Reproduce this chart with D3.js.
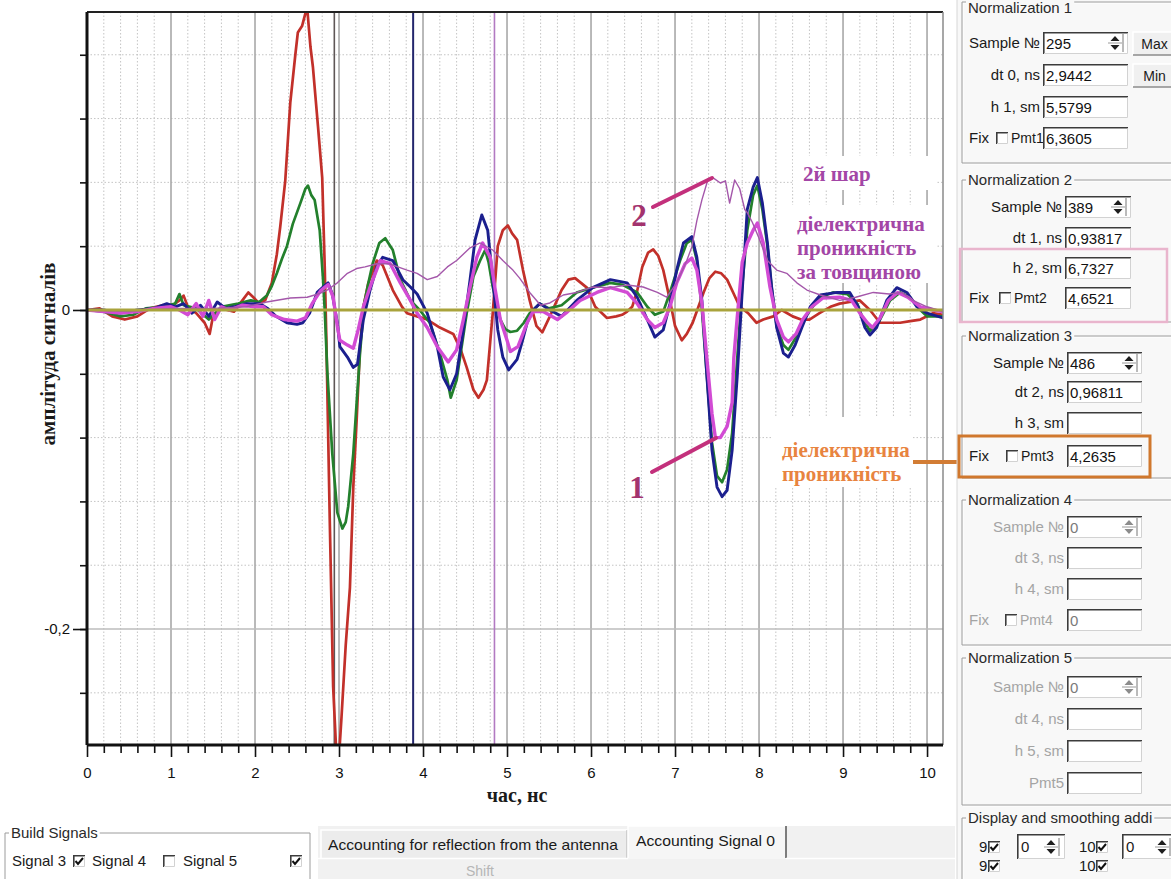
<!DOCTYPE html>
<html><head><meta charset="utf-8">
<script src="https://cdn.jsdelivr.net/npm/d3@7/dist/d3.min.js"></script>
<style>
html,body{margin:0;padding:0;background:#fff;}
svg{display:block;}
</style></head>
<body>
<svg id="chart" width="1171" height="879"></svg>
<script>
// ---------------- data ----------------
const timeMajorTicks = [0, 1, 2, 3, 4, 5, 6, 7, 8, 9, 10];
const timeMinorTicks = d3.range(0, 51).map(i => i / 5);
const ampLabelTicks = [0, -0.2];
const ampMinorTicks = d3.range(-6, 5).map(i => i * 0.04);
// cursor positions, ns: dt0, dt0+dt1, dt0+dt1+dt2
const cursorTimes = [2.9442, 3.8824, 4.8505];

// reflected signals: [time ns, amplitude]
const signalRed = [[0,0],[0.15,0.001],[0.3,-0.004],[0.45,-0.006],[0.6,-0.004],[0.75,0.001],[0.9,0.003],[1.0,0.002],[1.1,0.006],[1.15,0.009],[1.2,0.002],[1.3,-0.002],[1.4,-0.008],[1.46,-0.015],[1.5,-0.004],[1.6,0.001],[1.75,-0.001],[1.85,0.006],[1.92,0.011],[1.98,0.008],[2.05,0.004],[2.12,0.006],[2.2,0.017],[2.26,0.035],[2.3,0.052],[2.36,0.081],[2.42,0.13],[2.48,0.16],[2.51,0.174],[2.56,0.178],[2.62,0.19],[2.66,0.165],[2.69,0.152],[2.75,0.115],[2.8,0.083],[2.83,0.027],[2.85,-0.02],[2.89,-0.132],[2.93,-0.236],[2.97,-0.28],[3.0,-0.28],[3.03,-0.255],[3.08,-0.21],[3.13,-0.174],[3.17,-0.111],[3.21,-0.069],[3.25,-0.023],[3.29,0.002],[3.35,0.017],[3.45,0.031],[3.52,0.028],[3.64,0.0125],[3.75,0.002],[3.81,-0.002],[3.93,-0.004],[4.05,-0.006],[4.2,-0.011],[4.36,-0.015],[4.45,-0.025],[4.52,-0.036],[4.6,-0.05],[4.66,-0.055],[4.72,-0.05],[4.76,-0.044],[4.8,-0.02],[4.83,-0.002],[4.89,0.04],[4.95,0.05],[5.01,0.053],[5.06,0.048],[5.12,0.044],[5.19,0.025],[5.27,0.006],[5.35,-0.01],[5.42,-0.014],[5.51,-0.004],[5.65,0.0125],[5.73,0.019],[5.81,0.02],[5.95,0.014],[6.05,0.002],[6.19,-0.005],[6.3,-0.004],[6.37,-0.003],[6.43,-0.001],[6.49,0.002],[6.55,0.012],[6.61,0.027],[6.68,0.036],[6.74,0.038],[6.8,0.034],[6.86,0.025],[6.94,0.006],[7.0,-0.01],[7.08,-0.019],[7.14,-0.015],[7.21,-0.008],[7.34,0.011],[7.41,0.02],[7.48,0.024],[7.55,0.023],[7.62,0.019],[7.7,0.01],[7.77,0.002],[7.87,-0.002],[7.97,-0.008],[8.05,-0.006],[8.17,-0.004],[8.27,0],[8.4,-0.004],[8.5,-0.006],[8.6,-0.006],[8.72,-0.002],[8.85,0.002],[8.96,0.004],[9.08,0.005],[9.2,0.006],[9.32,0],[9.44,-0.008],[9.56,-0.008],[9.68,-0.008],[9.8,-0.007],[9.92,-0.006],[10.07,-0.002],[10.19,-0.003]];

const signalGreen = [[0,0],[0.2,-0.001],[0.4,-0.004],[0.55,-0.003],[0.7,0.001],[0.9,0.002],[1.05,0.004],[1.1,0.01],[1.15,0.003],[1.3,0.001],[1.45,-0.006],[1.6,0.002],[1.8,0.004],[1.95,0.006],[2.05,0.005],[2.14,0.009],[2.2,0.015],[2.26,0.023],[2.32,0.032],[2.38,0.04],[2.45,0.054],[2.54,0.067],[2.6,0.076],[2.63,0.078],[2.67,0.072],[2.71,0.069],[2.77,0.05],[2.81,0.019],[2.83,0],[2.86,-0.038],[2.92,-0.09],[2.98,-0.127],[3.04,-0.137],[3.08,-0.133],[3.11,-0.123],[3.17,-0.09],[3.21,-0.058],[3.25,-0.027],[3.3,0.004],[3.35,0.017],[3.4,0.029],[3.48,0.042],[3.55,0.045],[3.64,0.0376],[3.73,0.019],[3.85,0.006],[3.96,0],[4.08,-0.008],[4.2,-0.027],[4.29,-0.044],[4.33,-0.055],[4.4,-0.044],[4.52,-0.002],[4.6,0.021],[4.68,0.031],[4.74,0.0376],[4.78,0.03],[4.83,0.0144],[4.92,-0.006],[4.98,-0.012],[5.04,-0.0138],[5.12,-0.013],[5.2,-0.008],[5.27,-0.002],[5.39,0.004],[5.5,0.001],[5.65,0.003],[5.83,0.011],[6.02,0.014],[6.23,0.017],[6.38,0.0157],[6.55,0.011],[6.67,0.002],[6.76,-0.003],[6.86,-0.001],[6.94,0.011],[7.06,0.031],[7.14,0.042],[7.2,0.044],[7.26,0.031],[7.32,0],[7.38,-0.042],[7.44,-0.083],[7.5,-0.104],[7.56,-0.108],[7.62,-0.1],[7.68,-0.077],[7.74,-0.031],[7.8,0.015],[7.86,0.05],[7.93,0.072],[7.98,0.078],[8.04,0.063],[8.1,0.04],[8.15,0.014],[8.21,-0.01],[8.29,-0.022],[8.35,-0.025],[8.43,-0.018],[8.51,-0.008],[8.61,0],[8.73,0.008],[8.88,0.011],[9.05,0.01],[9.17,0.004],[9.24,-0.006],[9.32,-0.013],[9.42,-0.008],[9.56,0.006],[9.68,0.011],[9.8,0.008],[9.92,0],[10.0,-0.004],[10.19,-0.004]];

const signalBlue = [[0,0],[0.2,0],[0.4,-0.002],[0.6,0],[0.8,0.001],[0.95,0.004],[1.05,0.002],[1.15,0.004],[1.25,-0.002],[1.35,0.003],[1.45,-0.004],[1.55,0.005],[1.65,0.001],[1.75,0.002],[1.9,0.004],[2.06,0.004],[2.15,0.001],[2.25,-0.004],[2.38,-0.008],[2.5,-0.009],[2.57,-0.008],[2.65,-0.002],[2.74,0.011],[2.81,0.0144],[2.87,0.017],[2.92,0.01],[2.98,-0.008],[3.01,-0.023],[3.1,-0.0295],[3.17,-0.036],[3.22,-0.034],[3.29,-0.006],[3.37,0.0125],[3.45,0.027],[3.52,0.033],[3.64,0.031],[3.76,0.019],[3.85,0.0144],[3.93,0.01],[4.05,-0.002],[4.17,-0.023],[4.24,-0.042],[4.32,-0.05],[4.4,-0.04],[4.48,-0.0125],[4.56,0.019],[4.62,0.044],[4.7,0.0596],[4.77,0.05],[4.83,0.019],[4.89,-0.0125],[4.95,-0.0295],[5.02,-0.0376],[5.12,-0.031],[5.18,-0.02],[5.24,-0.008],[5.31,0],[5.39,0.004],[5.51,0],[5.65,-0.004],[5.83,0.006],[6.02,0.014],[6.23,0.019],[6.43,0.017],[6.55,0.008],[6.67,-0.006],[6.76,-0.017],[6.86,-0.0125],[6.94,0.004],[7.02,0.025],[7.1,0.042],[7.2,0.046],[7.26,0.033],[7.32,0.006],[7.38,-0.042],[7.44,-0.088],[7.5,-0.111],[7.56,-0.117],[7.62,-0.113],[7.68,-0.088],[7.74,-0.042],[7.8,0.012],[7.86,0.063],[7.93,0.077],[7.98,0.083],[8.04,0.067],[8.1,0.042],[8.15,0.0144],[8.21,-0.011],[8.29,-0.027],[8.35,-0.0295],[8.43,-0.022],[8.51,-0.011],[8.61,0.002],[8.73,0.0094],[8.93,0.011],[9.08,0.011],[9.18,0.002],[9.26,-0.011],[9.32,-0.0157],[9.4,-0.011],[9.52,0.006],[9.64,0.014],[9.76,0.011],[9.88,0.002],[10.0,-0.002],[10.19,-0.005]];

const signalMagenta = [[0,0],[0.2,-0.001],[0.4,-0.002],[0.6,-0.001],[0.8,0.001],[1.0,0.002],[1.1,0],[1.2,-0.003],[1.3,0.004],[1.38,-0.004],[1.45,0.006],[1.52,-0.006],[1.6,0.002],[1.7,0],[1.85,0.003],[2.0,0.002],[2.1,0.002],[2.2,-0.003],[2.35,-0.006],[2.5,-0.007],[2.6,-0.005],[2.68,0.004],[2.78,0.012],[2.87,0.016],[2.93,0.008],[2.98,-0.01],[3.01,-0.019],[3.1,-0.022],[3.17,-0.024],[3.23,-0.012],[3.29,0.002],[3.37,0.0144],[3.49,0.031],[3.61,0.029],[3.73,0.017],[3.85,0.006],[3.93,-0.002],[4.05,-0.011],[4.17,-0.023],[4.3,-0.0326],[4.4,-0.025],[4.48,-0.006],[4.56,0.0144],[4.64,0.033],[4.71,0.042],[4.8,0.033],[4.86,0.0125],[4.92,-0.006],[5.0,-0.019],[5.04,-0.026],[5.13,-0.023],[5.24,-0.008],[5.31,-0.001],[5.43,-0.001],[5.6,-0.006],[5.7,-0.002],[5.87,0.006],[6.07,0.011],[6.23,0.014],[6.43,0.011],[6.55,0.004],[6.67,-0.006],[6.76,-0.011],[6.86,-0.008],[6.94,0.002],[7.02,0.017],[7.12,0.029],[7.2,0.0326],[7.26,0.025],[7.32,0.004],[7.38,-0.031],[7.44,-0.065],[7.48,-0.08],[7.54,-0.08],[7.62,-0.073],[7.68,-0.058],[7.7,-0.03],[7.74,-0.005],[7.8,0.03],[7.86,0.042],[7.93,0.05],[7.98,0.0545],[8.05,0.042],[8.13,0.0144],[8.21,-0.006],[8.29,-0.017],[8.35,-0.02],[8.44,-0.015],[8.52,-0.006],[8.63,0.002],[8.76,0.0075],[8.96,0.008],[9.1,0.006],[9.2,-0.002],[9.29,-0.008],[9.35,-0.011],[9.44,-0.005],[9.54,0.006],[9.65,0.011],[9.77,0.008],[9.92,0.002],[10.07,0],[10.19,-0.001]];

// permittivity profile over thickness
const permittivityProfile = [[0,0],[0.5,-0.001],[1.0,0.001],[1.5,0.001],[1.9,0.002],[2.14,0.005],[2.42,0.0075],[2.62,0.008],[2.75,0.01],[2.86,0.0125],[2.98,0.017],[3.1,0.023],[3.21,0.026],[3.31,0.027],[3.45,0.029],[3.6,0.029],[3.7,0.027],[3.81,0.025],[3.93,0.023],[4.05,0.019],[4.17,0.021],[4.29,0.027],[4.4,0.031],[4.56,0.039],[4.68,0.042],[4.83,0.0376],[4.95,0.031],[5.07,0.025],[5.15,0.02],[5.27,0.011],[5.4,0.003],[5.51,0.0044],[5.67,0.0094],[5.83,0.011],[6.02,0.0144],[6.23,0.014],[6.43,0.0157],[6.62,0.0144],[6.79,0.011],[6.9,0.008],[7.02,0.017],[7.14,0.031],[7.2,0.0395],[7.26,0.056],[7.32,0.069],[7.39,0.0815],[7.45,0.083],[7.54,0.0796],[7.6,0.081],[7.65,0.067],[7.71,0.0815],[7.77,0.076],[7.83,0.063],[7.86,0.061],[7.92,0.055],[8.0,0.045],[8.1,0.031],[8.21,0.025],[8.33,0.023],[8.45,0.017],[8.57,0.0125],[8.73,0.0094],[8.96,0.006],[9.15,0.008],[9.36,0.011],[9.55,0.01],[9.7,0.011],[9.83,0.006],[10.0,0.002],[10.19,-0.001]];

// control panel contents
const norm1Rows = [["Sample №", "295"], ["dt 0, ns", "2,9442"], ["h 1, sm", "5,5799"], ["Pmt1", "6,3605"]];
const norm2Rows = [["Sample №", "389"], ["dt 1, ns", "0,93817"], ["h 2, sm", "6,7327"], ["Pmt2", "4,6521"]];
const norm3Rows = [["Sample №", "486"], ["dt 2, ns", "0,96811"], ["h 3, sm", ""], ["Pmt3", "4,2635"]];
const norm4Rows = [["Sample №", "0"], ["dt 3, ns", ""], ["h 4, sm", ""], ["Pmt4", "0"]];
const norm5Rows = [["Sample №", "0"], ["dt 4, ns", ""], ["h 5, sm", ""], ["Pmt5", ""]];
const buildSignals = [["Signal 3", true], ["Signal 4", false], ["Signal 5", true]];
const tabLabels = ["Accounting for reflection from the antenna", "Accounting Signal 0"];

// ---------------- chart ----------------
const svg = d3.select("#chart");
const P = {left: 87, right: 943, top: 12, bottom: 745};
const x = d3.scaleLinear().domain([0, 10.19]).range([P.left, P.right]);
const y = d3.scaleLinear().domain([-0.2727, 0.1868]).range([P.bottom, P.top]);
const serif = '"Liberation Serif", "Times New Roman", serif';
const sans = '"Liberation Sans", Arial, sans-serif';
const isMajorT = t => Math.abs(t - Math.round(t)) < 1e-6;

// grid
const grid = svg.append("g");
grid.selectAll("line.vmin").data(timeMinorTicks.filter(t => !isMajorT(t) && t < 10.19)).join("line")
  .attr("x1", d => x(d)).attr("x2", d => x(d)).attr("y1", P.top).attr("y2", P.bottom)
  .attr("stroke", "#c4c4c4").attr("stroke-width", 1).attr("stroke-dasharray", "1.5,2");
grid.selectAll("line.hmin").data(ampMinorTicks.filter(a => !ampLabelTicks.some(b => Math.abs(a - b) < 1e-9))).join("line")
  .attr("x1", P.left).attr("x2", P.right).attr("y1", d => y(d)).attr("y2", d => y(d))
  .attr("stroke", "#c4c4c4").attr("stroke-width", 1).attr("stroke-dasharray", "1.5,2");
grid.selectAll("line.vmaj").data(timeMajorTicks.filter(t => t > 0)).join("line")
  .attr("x1", d => x(d)).attr("x2", d => x(d)).attr("y1", P.top).attr("y2", P.bottom)
  .attr("stroke", "#a8a8a8").attr("stroke-width", 1.6);
grid.append("line").attr("x1", P.left).attr("x2", P.right).attr("y1", y(-0.2)).attr("y2", y(-0.2))
  .attr("stroke", "#bdbdbd").attr("stroke-width", 1.5);

// white label backgrounds inside the plot
const bgBoxes = [[793, 156, 937, 190], [790, 205, 937, 283], [773, 417, 913, 487]];
svg.append("g").selectAll("rect").data(bgBoxes).join("rect")
  .attr("x", d => d[0]).attr("y", d => d[1]).attr("width", d => d[2] - d[0]).attr("height", d => d[3] - d[1])
  .attr("fill", "#fff");

// cursor lines
const cursorColors = ["#5e5656", "#23266c", "#b27ac2"];
svg.append("g").selectAll("line").data(cursorTimes).join("line")
  .attr("x1", d => x(d)).attr("x2", d => x(d)).attr("y1", P.top).attr("y2", P.bottom)
  .attr("stroke", (d, i) => cursorColors[i]).attr("stroke-width", (d, i) => i === 1 ? 2 : 1.6);

// curves
svg.append("clipPath").attr("id", "plotClip").append("rect")
  .attr("x", P.left).attr("y", P.top).attr("width", P.right - P.left).attr("height", P.bottom - P.top);
const line = d3.line().x(d => x(d[0])).y(d => y(d[1]));
const series = [
  {data: signalRed, color: "#c2302a", w: 2.7},
  {data: signalGreen, color: "#23802c", w: 2.7},
  {data: signalBlue, color: "#1b1f8e", w: 2.9},
  {data: signalMagenta, color: "#d24bd4", w: 3.4},
  {data: permittivityProfile, color: "#a457aa", w: 1.4}
];
const curves = svg.append("g").attr("clip-path", "url(#plotClip)");
curves.selectAll("path").data(series).join("path")
  .attr("d", d => line(d.data)).attr("fill", "none")
  .attr("stroke", d => d.color).attr("stroke-width", d => d.w)
  .attr("stroke-linejoin", "round").attr("stroke-linecap", "round");

// zero baseline
svg.append("line").attr("x1", P.left).attr("x2", P.right).attr("y1", y(0)).attr("y2", y(0))
  .attr("stroke", "#a9a33c").attr("stroke-width", 3);

// frame
svg.append("line").attr("x1", P.left).attr("x2", P.right).attr("y1", P.top).attr("y2", P.top)
  .attr("stroke", "#222").attr("stroke-width", 2);
svg.append("line").attr("x1", P.right).attr("x2", P.right).attr("y1", P.top).attr("y2", P.bottom)
  .attr("stroke", "#8a8a8a").attr("stroke-width", 1.5);

// axes
const loc = d3.formatLocale({decimal: ",", thousands: " ", grouping: [3], currency: ["", ""], minus: "-"});
const fmtAmp = d => d === 0 ? "0" : loc.format(".1f")(d);
const xMinor = svg.append("g").attr("transform", `translate(0,${P.bottom})`)
  .call(d3.axisBottom(x).tickValues(timeMinorTicks.filter(t => !isMajorT(t) && t < 10.19)).tickSize(8).tickFormat(""));
const xMajor = svg.append("g").attr("transform", `translate(0,${P.bottom})`)
  .call(d3.axisBottom(x).tickValues(timeMajorTicks).tickSize(12).tickSizeOuter(0).tickPadding(10).tickFormat(d3.format("d")));
const yMinor = svg.append("g").attr("transform", `translate(${P.left},0)`)
  .call(d3.axisLeft(y).tickValues(ampMinorTicks).tickSize(7).tickFormat(""));
const yMajor = svg.append("g").attr("transform", `translate(${P.left},0)`)
  .call(d3.axisLeft(y).tickValues(ampLabelTicks).tickSize(14).tickSizeOuter(0).tickPadding(3).tickFormat(fmtAmp));
[xMinor, yMinor].forEach(a => a.select(".domain").remove());
[xMinor, xMajor, yMinor, yMajor].forEach(a => a.selectAll(".tick line").attr("stroke", "#111").attr("stroke-width", 1.6));
xMajor.select(".domain").attr("stroke", "#111").attr("stroke-width", 3).attr("d", `M${P.left},0H${P.right}`);
yMajor.select(".domain").attr("stroke", "#111").attr("stroke-width", 3).attr("d", `M0,${P.top}V${P.bottom}`);
[xMajor, yMajor].forEach(a => a.selectAll(".tick text").attr("font-family", sans).attr("font-size", 15).attr("fill", "#111"));

// axis titles
svg.append("text").attr("transform", "translate(48,354) rotate(-90)").attr("text-anchor", "middle")
  .attr("dy", "0.35em").attr("font-family", serif).attr("font-weight", "bold").attr("font-size", 21)
  .attr("fill", "#1a1a1a").text("амплітуда сигналів");
svg.append("text").attr("x", 517).attr("y", 795).attr("text-anchor", "middle").attr("dy", "0.35em")
  .attr("font-family", serif).attr("font-weight", "bold").attr("font-size", 20)
  .attr("fill", "#1a1a1a").text("час, нс");

// annotations
const ann = svg.append("g").attr("font-family", serif).attr("font-weight", "bold");
const purpleTxt = "#a346a6";
ann.append("text").attr("x", 803).attr("y", 174).attr("dy", "0.35em").attr("font-size", 21).attr("fill", purpleTxt).text("2й шар");
["діелектрична", "проникність", "за товщиною"].forEach((s, i) =>
  ann.append("text").attr("x", 797).attr("y", 224 + i * 24).attr("dy", "0.35em").attr("font-size", 21).attr("fill", purpleTxt).text(s));
["діелектрична", "проникність"].forEach((s, i) =>
  ann.append("text").attr("x", 782).attr("y", 450 + i * 24).attr("dy", "0.35em").attr("font-size", 21).attr("fill", "#e8843f").text(s));
ann.append("text").attr("x", 639).attr("y", 215).attr("dy", "0.35em").attr("text-anchor", "middle").attr("font-size", 31).attr("fill", "#a3336e").text("2");
ann.append("text").attr("x", 637).attr("y", 487).attr("dy", "0.35em").attr("text-anchor", "middle").attr("font-size", 31).attr("fill", "#a3336e").text("1");
ann.append("line").attr("x1", 653).attr("y1", 207).attr("x2", 712).attr("y2", 178).attr("stroke", "#c3307c").attr("stroke-width", 4).attr("stroke-linecap", "round");
ann.append("line").attr("x1", 652).attr("y1", 472).attr("x2", 716).attr("y2", 438).attr("stroke", "#c3307c").attr("stroke-width", 4).attr("stroke-linecap", "round");
ann.append("line").attr("x1", 913).attr("y1", 462).attr("x2", 962).attr("y2", 462).attr("stroke", "#d27c34").attr("stroke-width", 4);

// ---------------- control panel ----------------
const panelBg = "#f8f8f8";
const ui = svg.append("g");
ui.append("rect").attr("x", 957).attr("y", 0).attr("width", 214).attr("height", 879).attr("fill", panelBg);
ui.append("line").attr("x1", 957).attr("x2", 957).attr("y1", 0).attr("y2", 879).attr("stroke", "#d6d6d6");

function uiText(g, tx, ty, s, anchor, color, size) {
  return g.append("text").attr("x", tx).attr("y", ty).attr("dy", "0.36em")
    .attr("text-anchor", anchor || "start").attr("fill", color || "#1a1a1a")
    .attr("font-family", sans).attr("font-size", size || 15).text(s);
}
function field(g, x0, y0, x1, y1) {
  g.append("rect").attr("x", x0).attr("y", y0).attr("width", x1 - x0).attr("height", y1 - y0).attr("fill", "#fff");
  g.append("path").attr("d", `M${x0 + 0.8},${y1}V${y0 + 0.8}H${x1}`).attr("fill", "none").attr("stroke", "#3c3c3c").attr("stroke-width", 1.6);
  g.append("path").attr("d", `M${x0 + 1},${y1 - 0.5}H${x1 - 0.5}V${y0 + 1.5}`).attr("fill", "none").attr("stroke", "#d2d2d2");
}
function spinner(g, cx, cy, dis) {
  const c = dis ? "#8c8c8c" : "#1e1e1e";
  g.append("path").attr("d", `M${cx - 4.5},${cy - 2}L${cx},${cy - 7}L${cx + 4.5},${cy - 2}Z`).attr("fill", c);
  g.append("path").attr("d", `M${cx - 4.5},${cy + 2}L${cx},${cy + 7}L${cx + 4.5},${cy + 2}Z`).attr("fill", c);
  g.append("line").attr("x1", cx - 7).attr("x2", cx + 7).attr("y1", cy).attr("y2", cy).attr("stroke", "#9a9a9a");
  g.append("line").attr("x1", cx + 8).attr("x2", cx + 8).attr("y1", cy - 9).attr("y2", cy + 9).attr("stroke", "#777");
}
function checkbox(g, x0, y0, checked) {
  field(g, x0, y0, x0 + 12, y0 + 12);
  if (checked) g.append("path").attr("d", `M${x0 + 2.5},${y0 + 6}L${x0 + 5},${y0 + 9}L${x0 + 10},${y0 + 3}`)
    .attr("fill", "none").attr("stroke", "#111").attr("stroke-width", 2);
}
function frame(g, x0, y0, x1, y1, title, titleY) {
  g.append("path").attr("d", `M${x1},${y0 + 1}H${x0 + 1}V${y1 + 1}H${x1}`).attr("fill", "none").attr("stroke", "#fff");
  g.append("path").attr("d", `M${x1},${y0}H${x0}V${y1}H${x1}`).attr("fill", "none").attr("stroke", "#9c9c9c");
  if (title) {
    const ty = titleY === undefined ? y0 : titleY;
    const t = uiText(g, x0 + 6, ty, title, "start", "#2a2a2a");
    const w = t.node().getComputedTextLength();
    g.insert("rect", () => t.node()).attr("x", x0 + 4).attr("y", ty - 8).attr("width", w + 4).attr("height", 16).attr("fill", panelBg);
  }
}
function button(g, x0, y0, x1, y1, label) {
  g.append("rect").attr("x", x0).attr("y", y0).attr("width", x1 - x0).attr("height", y1 - y0).attr("fill", "#f0f0f0");
  g.append("path").attr("d", `M${x0},${y1}V${y0}H${x1}`).attr("fill", "none").attr("stroke", "#fff").attr("stroke-width", 1.5);
  g.append("path").attr("d", `M${x0},${y1}H${x1}V${y0}`).attr("fill", "none").attr("stroke", "#8c8c8c").attr("stroke-width", 1.5);
  uiText(g, (x0 + x1) / 2, (y0 + y1) / 2, label, "middle", "#1a1a1a", 14);
}
function normGroup(rows, L) {
  const g = ui.append("g");
  frame(g, 962, L.top, 1180, L.bottom, L.title, L.titleY);
  const labCol = L.dis ? "#a4a4a4" : "#1a1a1a";
  const valCol = L.dis ? "#7a7a7a" : "#111";
  rows.forEach((r, i) => {
    const ry = L.rows[i];
    if (i === 3 && L.fix) {
      uiText(g, 969, ry, "Fix", "start", labCol);
      checkbox(g, L.cb, ry - 6, false);
      uiText(g, L.cb + 15, ry, r[0], "start", labCol, 14);
    } else {
      uiText(g, L.lr, ry, r[0], "end", labCol);
    }
    field(g, L.bx0, ry - 11, L.bx1, ry + 11);
    if (r[1]) uiText(g, L.bx0 + 3, ry + 1, r[1], "start", valCol);
    if (i === 0) spinner(g, L.bx1 - 13, ry, L.dis);
  });
  return g;
}
normGroup(norm1Rows, {title: "Normalization 1", top: 2, titleY: 8, bottom: 163, rows: [43, 75, 107, 138], bx0: 1043, bx1: 1128, lr: 1040, cb: 996, fix: true});
normGroup(norm2Rows, {title: "Normalization 2", top: 180, bottom: 322, rows: [207, 238, 268, 298], bx0: 1065, bx1: 1131, lr: 1062, cb: 999, fix: true});
normGroup(norm3Rows, {title: "Normalization 3", top: 336, bottom: 478, rows: [363, 392, 423, 456], bx0: 1067, bx1: 1142, lr: 1064, cb: 1006, fix: true});
normGroup(norm4Rows, {title: "Normalization 4", top: 500, bottom: 645, rows: [527, 558, 589, 620], bx0: 1067, bx1: 1142, lr: 1064, cb: 1005, fix: true, dis: true});
normGroup(norm5Rows, {title: "Normalization 5", top: 658, bottom: 805, rows: [687, 719, 751, 783], bx0: 1067, bx1: 1142, lr: 1064, fix: false, dis: true});
button(ui, 1133, 32, 1176, 55, "Max");
button(ui, 1133, 64, 1176, 87, "Min");

// display and smoothing group (runs past the panel edge)
const disp = ui.append("g");
frame(disp, 962, 818, 1180, 900, "Display and smoothing addi");
uiText(disp, 979, 847, "9", "start");
checkbox(disp, 988, 841, true);
field(disp, 1017, 834, 1065, 859);
uiText(disp, 1021, 847, "0", "start");
spinner(disp, 1051, 847, false);
uiText(disp, 1079, 847, "10", "start");
checkbox(disp, 1096, 841, true);
field(disp, 1122, 834, 1178, 859);
uiText(disp, 1126, 847, "0", "start");
spinner(disp, 1162, 847, false);
uiText(disp, 979, 866, "9", "start");
checkbox(disp, 988, 860, true);
uiText(disp, 1079, 866, "10", "start");
checkbox(disp, 1096, 860, true);

// highlight frames
ui.append("rect").attr("x", 960).attr("y", 249).attr("width", 207).attr("height", 73)
  .attr("fill", "none").attr("stroke", "#e9b5cd").attr("stroke-width", 2.5);
ui.append("rect").attr("x", 959).attr("y", 436).attr("width", 191).attr("height", 41)
  .attr("fill", "none").attr("stroke", "#d0782e").attr("stroke-width", 3);

// bottom: build signals
const bottom = svg.append("g");
const bs = bottom.append("g");
frame(bs, 5, 833, 310, 900, "Build Signals");
bs.select("rect").attr("fill", "#fff");
bs.append("line").attr("x1", 310).attr("x2", 310).attr("y1", 833).attr("y2", 879).attr("stroke", "#9c9c9c");
const sigX = [[12, 73], [92, 163], [183, 290]];
buildSignals.forEach((s, i) => {
  uiText(bs, sigX[i][0], 861, s[0], "start");
  checkbox(bs, sigX[i][1], 855, s[1]);
});

// bottom: tabs
const tabs = bottom.append("g");
tabs.append("rect").attr("x", 318).attr("y", 826).attr("width", 637).attr("height", 53).attr("fill", "#f1f1f1");
tabs.append("rect").attr("x", 321).attr("y", 830).attr("width", 306).attr("height", 28).attr("fill", "#ececec");
tabs.append("path").attr("d", "M321,858V830H627").attr("fill", "none").attr("stroke", "#fff").attr("stroke-width", 1.5);
tabs.append("line").attr("x1", 627).attr("x2", 627).attr("y1", 830).attr("y2", 858).attr("stroke", "#b0b0b0");
uiText(tabs, 328, 845, tabLabels[0], "start", "#1a1a1a", 15).attr("textLength", 290).attr("lengthAdjust", "spacingAndGlyphs");
tabs.append("rect").attr("x", 628).attr("y", 826).attr("width", 158).attr("height", 33).attr("fill", "#f6f6f6");
tabs.append("path").attr("d", "M628,858V826H786").attr("fill", "none").attr("stroke", "#fff").attr("stroke-width", 1.5);
tabs.append("line").attr("x1", 786).attr("x2", 786).attr("y1", 826).attr("y2", 858).attr("stroke", "#555").attr("stroke-width", 1.5);
uiText(tabs, 636, 841, tabLabels[1], "start", "#1a1a1a", 15).attr("textLength", 139).attr("lengthAdjust", "spacingAndGlyphs");
tabs.append("path").attr("d", "M318,858.5H628M786,858.5H955").attr("stroke", "#fff").attr("stroke-width", 1.5);
uiText(tabs, 466, 871, "Shift", "start", "#b6b6b6", 14);
</script>
</body></html>
